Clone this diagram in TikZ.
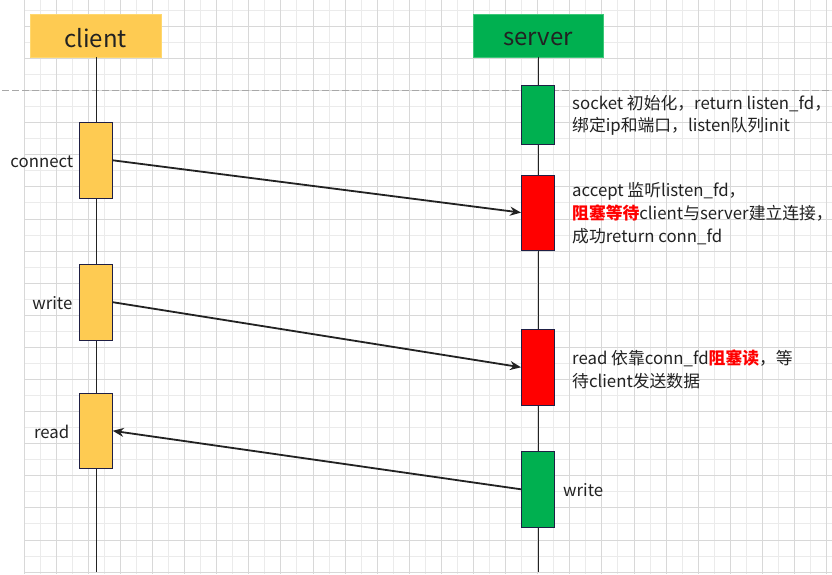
\documentclass[tikz,border=0pt]{standalone}
\usepackage{fontspec}
\setmainfont{Noto Sans CJK SC}
\usetikzlibrary{arrows.meta}
\definecolor{cyel}{HTML}{FECB52}
\definecolor{cyelb}{HTML}{FFD86E}
\definecolor{cgrn}{HTML}{00B050}
\definecolor{cgrnb}{HTML}{3CC878}
\definecolor{cred}{HTML}{FF0000}
\definecolor{cbord}{HTML}{1F1F45}
\definecolor{gridminor}{HTML}{EBEBEB}
\definecolor{gridmajor}{HTML}{D8D8D8}
\definecolor{ink}{HTML}{222222}
\definecolor{dashgray}{HTML}{A8A8A8}
\begin{document}
\begin{tikzpicture}[x=1pt,y=-1pt,
  header/.style={minimum width=131pt, minimum height=43pt, inner sep=0pt, line width=0.8pt,
    font=\fontsize{24}{28}\selectfont, text=ink},
  act/.style={draw=cbord, line width=0.9pt, minimum width=33pt, minimum height=76pt, inner sep=0pt},
  life/.style={draw=ink, line width=0.9pt},
  msg/.style={draw=ink, line width=1.8pt, -{Stealth[length=11pt,width=9pt]}},
  lbl/.style={font=\fontsize{16.8}{22.8}\selectfont, text=ink, inner sep=0pt},
  desc/.style={lbl, align=left, anchor=west}
]
\useasboundingbox (0,0) rectangle (832,575);
\fill[white] (0,0) rectangle (832,575);
% grid
\foreach \i in {1,3,...,49} {
  \pgfmathsetmacro{\gx}{24+16.05*\i}
  \draw[gridminor, line width=0.8pt] (\gx,0) -- (\gx,574);
}
\foreach \j in {1,3,...,35} {
  \pgfmathsetmacro{\gy}{572-16.05*\j}
  \draw[gridminor, line width=0.8pt] (24,\gy) -- (832,\gy);
}
\foreach \i in {0,2,...,50} {
  \pgfmathsetmacro{\gx}{24+16.05*\i}
  \draw[gridmajor, line width=0.8pt] (\gx,0) -- (\gx,574);
}
\foreach \j in {0,2,...,34} {
  \pgfmathsetmacro{\gy}{572-16.05*\j}
  \draw[gridmajor, line width=0.8pt] (24,\gy) -- (832,\gy);
}
% dashed separator
\draw[dashgray, line width=0.9pt, dash pattern=on 7pt off 3pt] (2,90) -- (832,90);

% headers
\node[header, fill=cyel, draw=cyelb] (ch) at (95.5,35.5) {\raisebox{-3pt}[\height][\depth]{client}};
\node[header, fill=cgrn, draw=cgrnb, minimum width=130pt] (sh) at (538,35.5) {\raisebox{-3pt}[\height][\depth]{server}};

% lifelines
\coordinate (cend) at (96,572);
\coordinate (send) at (538,572);
\draw[life] (ch.south -| cend) -- (cend);
\draw[life] (sh.south) -- (send);

% activation boxes
\node[act, fill=cyel] (c1) at (95.8,160.3) {};
\node[act, fill=cyel] (c2) at (95.8,302.2) {};
\node[act, fill=cyel, minimum height=75pt] (c3) at (95.8,430.8) {};
\node[act, fill=cgrn, minimum height=59.5pt] (s1) at (538,115) {};
\node[act, fill=cred, minimum height=75.3pt] (r1) at (538,212.6) {};
\node[act, fill=cred] (r2) at (538,367.3) {};
\node[act, fill=cgrn] (s2) at (538,489.3) {};

% messages
\draw[msg] (c1.east) -- (r1.west);
\draw[msg] (c2.east) -- (r2.west);
\draw[msg] (s2.west) -- (c3.east);

% client labels
\node[lbl, anchor=east] (lconnect) at (73.5,161.5) {connect};
\node[lbl, anchor=east] (lwrite) at (72.5,303) {write};
\node[lbl, anchor=east] (lread) at (69.5,431.5) {read};
\node[lbl, anchor=west] (swrite) at (563,490) {write};

% server descriptions
\node[desc] (d1) at (572,115.3) {socket 初始化，return listen\_fd，\\绑定ip和端口，listen队列init};
\node[desc] (d2) at (572,213.5) {accept 监听listen\_fd，\\\textcolor{cred}{\bfseries 阻塞等待}client与server建立连接，\\成功return conn\_fd};
\node[desc] (d3) at (572,369.2) {read 依靠conn\_fd\textcolor{cred}{\bfseries 阻塞读}，等\\待client发送数据};
\end{tikzpicture}
\end{document}
